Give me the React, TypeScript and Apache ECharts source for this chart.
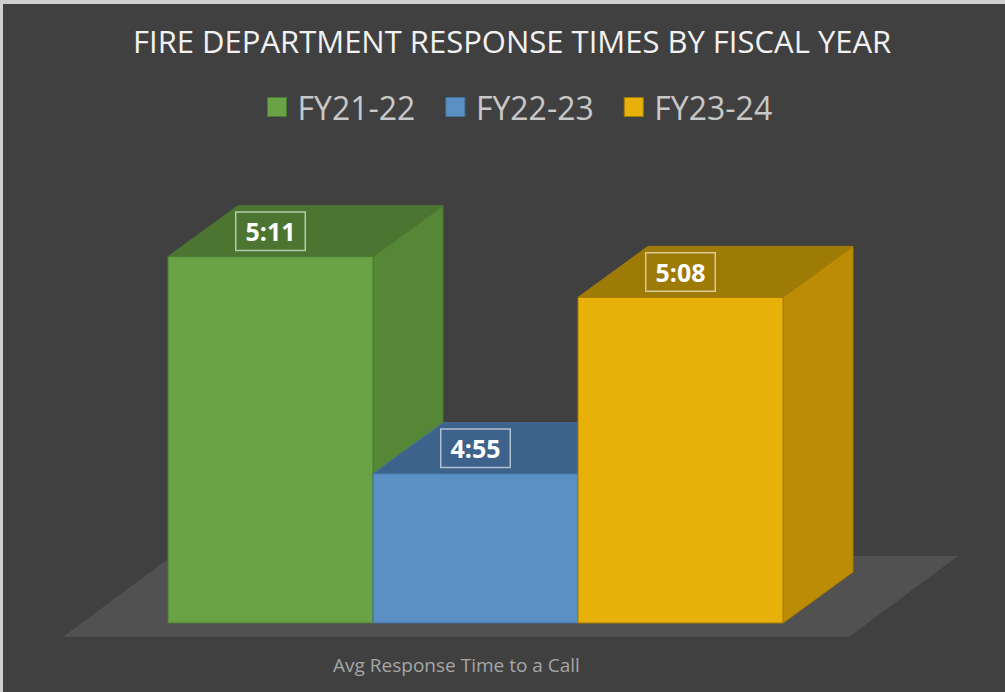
import React, { useEffect, useRef } from 'react';
import * as echarts from 'echarts';

const categories = ['Avg Response Time to a Call'];
const seriesNames = ['FY21-22', 'FY22-23', 'FY23-24'];
const responseSeconds = [311, 295, 308];
const valueLabels = ['5:11', '4:55', '5:08'];
const frontColors = ['#6aa246', '#5b90c4', '#e8b10a'];
const topColors = ['#4c7532', '#3d638c', '#9e7a06'];
const sideColors = ['#558737', '#4a79a8', '#bc8c05'];
const edgeColors = ['#4d7a31', '#41709f', '#a57c05'];

const Y_MIN = 284;
const Y_MAX = 314;
const DX = 70;
const DY = 51;
const FONT = '"Open Sans", "Noto Sans", sans-serif';

export default function App() {
  const ref = useRef<HTMLDivElement>(null);
  useEffect(() => {
    if (!ref.current) return;
    document.body.style.margin = '0';
    const chart = echarts.init(ref.current, undefined, { renderer: 'svg' });
    const series = seriesNames.map((name, i) => ({
      type: 'custom',
      name,
      z: 2,
      itemStyle: { color: frontColors[i], borderColor: edgeColors[i] },
      data: [[0, responseSeconds[i]]],
      renderItem: (params: any, api: any) => {
        const idx = params.seriesIndex;
        const v = api.value(1);
        const top = api.coord([api.value(0), v]);
        const base = api.coord([api.value(0), Y_MIN]);
        const band = api.size([1, 0])[0];
        const bw = band / 3;
        const x0 = top[0] - band / 2 + idx * bw;
        const x1 = x0 + bw;
        const yT = top[1];
        const yB = base[1];
        const stroke = edgeColors[idx];
        return {
          type: 'group',
          children: [
            {
              type: 'polygon',
              shape: { points: [[x1, yT], [x1 + DX, yT - DY], [x1 + DX, yB - DY], [x1, yB]] },
              style: { fill: sideColors[idx], stroke, lineWidth: 1 },
            },
            {
              type: 'polygon',
              shape: { points: [[x0, yT], [x0 + DX, yT - DY], [x1 + DX, yT - DY], [x1, yT]] },
              style: { fill: topColors[idx], stroke, lineWidth: 1 },
            },
            {
              type: 'polygon',
              shape: { points: [[x0, yT], [x1, yT], [x1, yB], [x0, yB]] },
              style: { fill: frontColors[idx], stroke, lineWidth: 1 },
            },
            {
              type: 'text',
              x: (x0 + x1) / 2,
              y: yT - DY / 2,
              z2: 10,
              style: {
                text: valueLabels[idx],
                fill: '#ffffff',
                fontSize: 25,
                fontWeight: 'bold',
                fontFamily: FONT,
                align: 'center',
                verticalAlign: 'middle',
                backgroundColor: topColors[idx],
                borderColor: 'rgba(255,255,255,0.6)',
                borderWidth: 1.5,
                padding: [7, 9, 5, 9],
                boxShadowBlur: 8,
                boxShadowColor: 'rgba(0,0,0,0.35)',
                boxShadowOffsetY: 3,
              },
            },
          ],
        };
      },
    }));
    chart.setOption({
      animation: false,
      backgroundColor: '#404040',
      title: {
        text: 'FIRE DEPARTMENT RESPONSE TIMES BY FISCAL YEAR',
        left: 128,
        top: 17,
        padding: 5,
        textStyle: { color: '#f2f2f2', fontSize: 31, fontWeight: 'normal', fontFamily: FONT, lineHeight: 38 },
      },
      legend: {
        top: 81,
        left: 262,
        padding: 5,
        icon: 'rect',
        itemWidth: 19,
        itemHeight: 19,
        itemGap: 30,
        textStyle: { color: '#c8c8c8', fontSize: 32, fontFamily: FONT, lineHeight: 42, padding: [0, 0, 0, 6] },
        data: seriesNames.map((n, i) => ({
          name: n,
          itemStyle: { color: frontColors[i], borderColor: edgeColors[i], borderWidth: 1 },
        })),
      },
      grid: { left: 168, right: 222, top: 216, bottom: 69 },
      xAxis: {
        type: 'category',
        data: categories,
        axisLine: { show: false },
        axisTick: { show: false },
        splitLine: { show: false },
        axisLabel: {
          color: '#a6a6a6',
          fontSize: 19,
          fontFamily: FONT,
          lineHeight: 24,
          margin: 30,
          padding: [0, 38, 0, 0],
        },
      },
      yAxis: {
        type: 'value',
        min: Y_MIN,
        max: Y_MAX,
        show: false,
        splitLine: { show: false },
      },
      graphic: [
        {
          type: 'polygon',
          z: 0,
          shape: { points: [[63, 637], [849, 637], [958, 556], [172, 556]] },
          style: { fill: '#525151' },
        },
        { type: 'rect', z: 100, shape: { x: 0, y: 0, width: 1005, height: 4 }, style: { fill: '#cfcfcf' } },
        { type: 'rect', z: 100, shape: { x: 0, y: 0, width: 3, height: 692 }, style: { fill: '#cfcfcf' } },
      ],
      series,
    });
    return () => chart.dispose();
  }, []);
  return (
    <div style={{ position: 'fixed', left: 0, top: 0, width: 1005, height: 692 }}>
      <div ref={ref} style={{ width: 1005, height: 692 }} />
    </div>
  );
}
